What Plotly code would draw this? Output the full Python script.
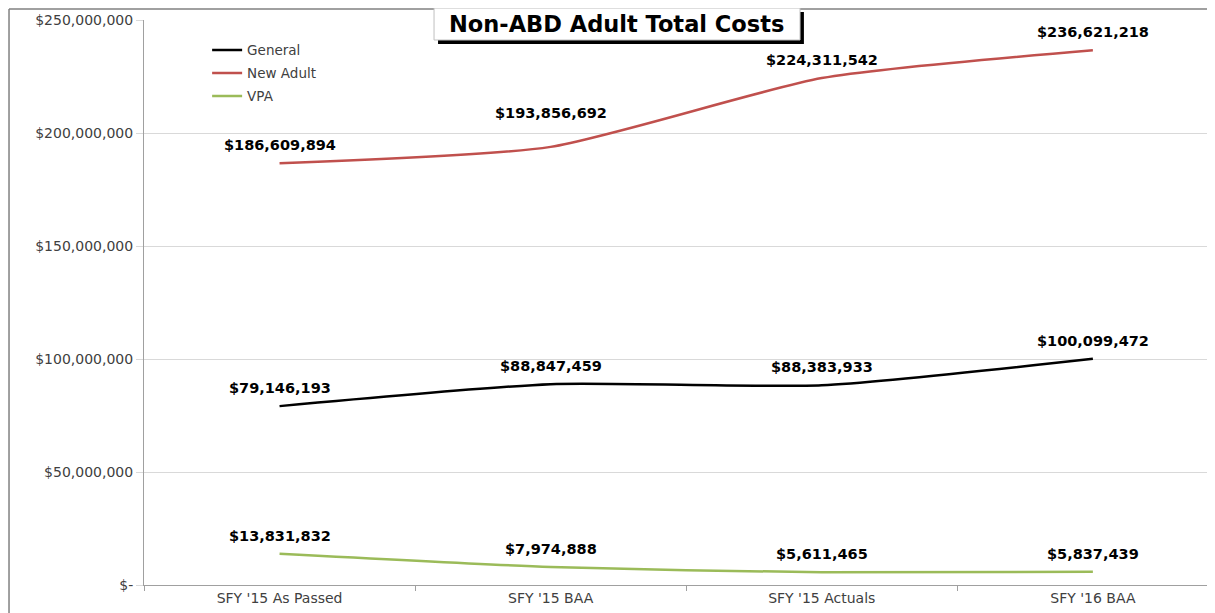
import plotly.graph_objects as go

categories = ["SFY '15 As Passed", "SFY '15 BAA", "SFY '15 Actuals", "SFY '16 BAA"]
general = [79146193, 88847459, 88383933, 100099472]
new_adult = [186609894, 193856692, 224311542, 236621218]
vpa = [13831832, 7974888, 5611465, 5837439]
y_ticks = [0, 50000000, 100000000, 150000000, 200000000, 250000000]
y_tick_labels = ["$-", "$50,000,000", "$100,000,000", "$150,000,000", "$200,000,000", "$250,000,000"]

series = [
    ("General", general, "#000000", [17, 17, 17, 17]),
    ("New Adult", new_adult, "#C0504D", [17, 33, 17, 17]),
    ("VPA", vpa, "#9BBB59", [17, 17, 17, 17]),
]

FONT = "DejaVu Sans"
fig = go.Figure()
annotations = []
for i, (name, vals, color, shifts) in enumerate(series):
    fig.add_trace(go.Scatter(
        x=categories, y=vals, name=name, mode="lines",
        line=dict(color=color, width=2.5, shape="spline", smoothing=0.6),
        legendgroup=name,
    ))
    for c, v, s in zip(categories, vals, shifts):
        annotations.append(dict(
            x=c, y=v, xref="x", yref="y", text="<b>${:,}</b>".format(v),
            showarrow=False, yshift=s + 1, font=dict(family=FONT, size=14.5, color="#000000"),
        ))

# title text (box + shadow drawn as shapes)
annotations.append(dict(
    x=0.438, y=0.993, xref="paper", yref="paper", xanchor="center", yanchor="middle",
    text="<b>Non-ABD Adult Total Costs</b>", showarrow=False,
    font=dict(family=FONT, size=22.5, color="#000000"),
))

shapes = [
    dict(type="line", xref="paper", yref="paper", x0=-0.1251, x1=-0.1251, y0=-0.1, y1=1.0195,
         line=dict(color="#808080", width=1.5)),
    dict(type="line", xref="paper", yref="paper", x0=-0.1251, x1=1.01, y0=1.0195, y1=1.0195,
         line=dict(color="#808080", width=1.5)),
    # shadow
    dict(type="rect", xref="paper", yref="paper", x0=0.2725, x1=0.6116, y0=0.9575, y1=1.0142,
         fillcolor="#000000", line=dict(width=0), layer="above"),
    # box
    dict(type="rect", xref="paper", yref="paper", x0=0.2688, x1=0.608, y0=0.9646, y1=1.0212,
         fillcolor="#FFFFFF", line=dict(color="#BFBFBF", width=1), layer="above"),
]

fig.update_layout(
    width=1215, height=613,
    margin=dict(l=136, r=0, t=12, b=36),
    paper_bgcolor="#FFFFFF", plot_bgcolor="#FFFFFF",
    font=dict(family=FONT, size=14, color="#404040"),
    showlegend=True,
    legend=dict(x=0.0585, y=0.974, xanchor="left", yanchor="top", bgcolor="rgba(0,0,0,0)",
                font=dict(family=FONT, size=13.5, color="#404040"), tracegroupgap=2.5,
                itemwidth=30),
    annotations=annotations,
    shapes=shapes,
)
fig.update_xaxes(
    type="category", categoryorder="array", categoryarray=categories,
    range=[-0.5, 3.48], showgrid=False, showline=True, linecolor="#A0A0A0", linewidth=1,
    ticks="outside", tickson="boundaries", ticklen=5, tickcolor="#A0A0A0",
    tickfont=dict(family=FONT, size=14, color="#404040"), zeroline=False,
)
fig.update_yaxes(
    range=[0, 250000000], tickvals=y_ticks, ticktext=y_tick_labels,
    showgrid=True, gridcolor="#D9D9D9", gridwidth=1, showline=True, linecolor="#A0A0A0",
    ticks="outside", ticklen=7, tickcolor="#D9D9D9", zeroline=False,
    tickfont=dict(family=FONT, size=14, color="#404040"),
)

fig.write_html("out.html")
